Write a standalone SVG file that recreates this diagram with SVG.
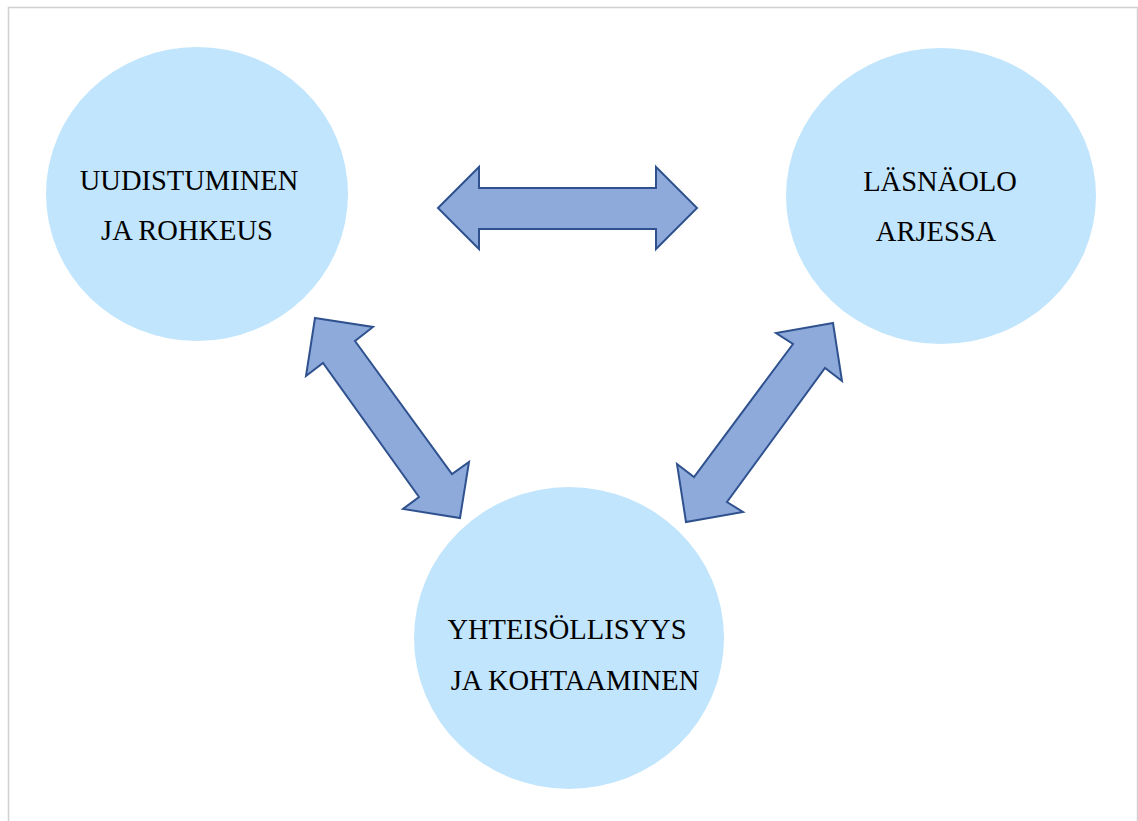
<svg xmlns="http://www.w3.org/2000/svg" width="1138" height="821" viewBox="0 0 1138 821">
<style>
.node{fill:#C1E5FC;}
.lbl{font-family:"Liberation Serif","Times New Roman",serif;font-size:28.5px;fill:#000;text-anchor:middle;}
.arrow{fill:#8EAADB;stroke:#2F528F;stroke-width:2;stroke-linejoin:miter;}
</style>
<rect x="0" y="0" width="1138" height="821" fill="#fff"/>
<rect x="8.5" y="7.5" width="1129" height="830" fill="none" stroke="#D0D0D0" stroke-width="1.5"/>
<g id="node-uudistuminen">
<ellipse class="node" cx="197" cy="194" rx="151" ry="147"/>
<text class="lbl" x="189" y="190">UUDISTUMINEN</text>
<text class="lbl" x="187" y="240">JA ROHKEUS</text>
</g>
<g id="node-lasnaolo">
<ellipse class="node" cx="941" cy="196" rx="155" ry="148"/>
<text class="lbl" x="940" y="191">LÄSNÄOLO</text>
<text class="lbl" x="936" y="241">ARJESSA</text>
</g>
<g id="node-yhteisollisyys">
<ellipse class="node" cx="569" cy="638" rx="155" ry="151"/>
<text class="lbl" x="567" y="639">YHTEISÖLLISYYS</text>
<text class="lbl" x="575" y="690">JA KOHTAAMINEN</text>
</g>
<g id="connectors">
<polygon class="arrow" points="438,208 479,167 479,188 656,188 656,167 697,208 656,249 656,229 479,229 479,249"/>
<polygon class="arrow" points="315,318 373,327 355,341 452,474 469,462 460,518 403,509 419,497 323,363 306,376"/>
<polygon class="arrow" points="833,323 776,333 793,344 694,477 677,464 686,522 743,512 727,502 825,368 842,381"/>
</g>
</svg>
